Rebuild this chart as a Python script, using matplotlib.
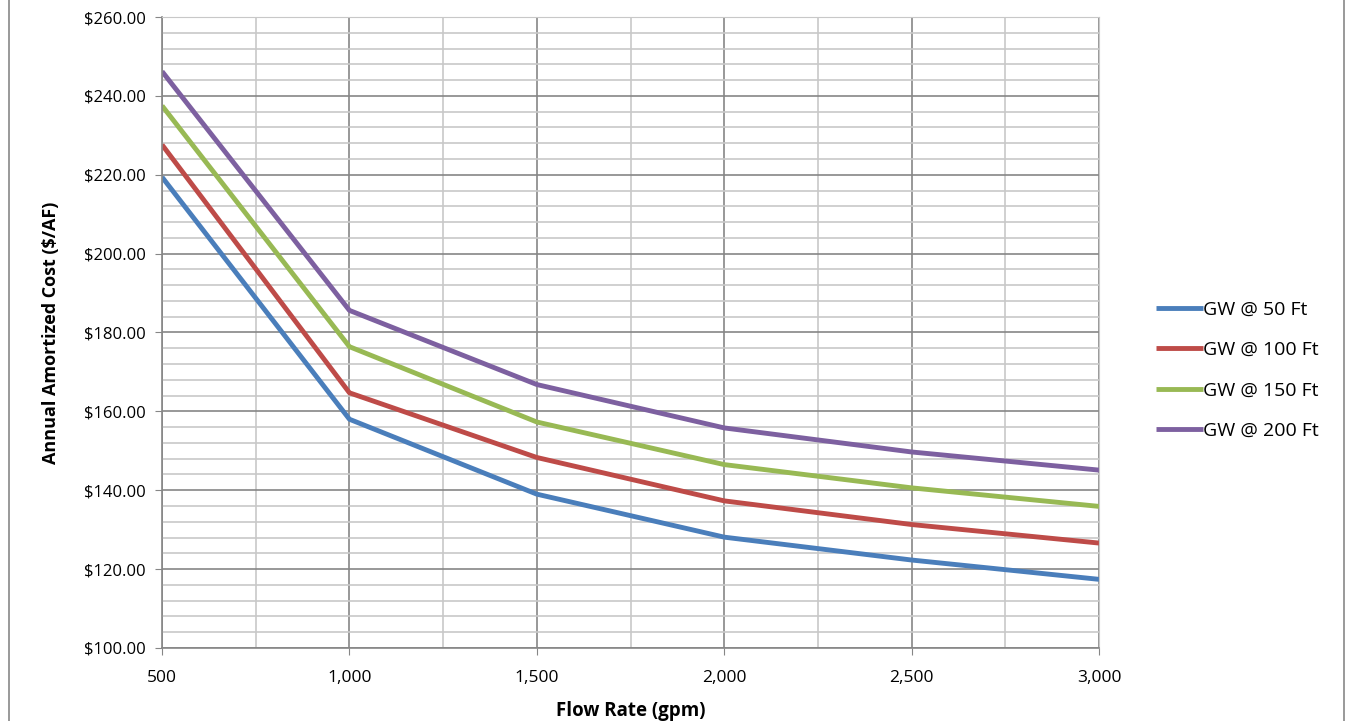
import matplotlib.pyplot as plt
from matplotlib.lines import Line2D
from matplotlib.ticker import MultipleLocator, FuncFormatter

plt.rcParams['font.family'] = ['Open Sans', 'DejaVu Sans']

flow = [500, 1000, 1500, 2000, 2500, 3000]
gw50 = [219.4, 158.0, 139.0, 128.1, 122.3, 117.4]
gw100 = [227.6, 164.7, 148.3, 137.3, 131.3, 126.6]
gw150 = [237.5, 176.4, 157.3, 146.5, 140.6, 135.9]
gw200 = [246.2, 185.6, 166.8, 155.8, 149.7, 145.1]
labels = ['GW @ 50 Ft', 'GW @ 100 Ft', 'GW @ 150 Ft', 'GW @ 200 Ft']
colors = ['#4a7ebb', '#be4b48', '#98b954', '#7d60a0']

fig = plt.figure(figsize=(13.55, 7.21), dpi=100)
ax = fig.add_axes([0.1196, 0.1013, 0.6915, 0.8751])

for ys, lab, c in zip([gw50, gw100, gw150, gw200], labels, colors):
    ax.plot(flow, ys, color=c, lw=3.5, label=lab, solid_capstyle='butt')

ax.set_xlim(500, 3000)
ax.set_ylim(100, 260)
ax.xaxis.set_major_locator(MultipleLocator(500))
ax.xaxis.set_minor_locator(MultipleLocator(250))
ax.yaxis.set_major_locator(MultipleLocator(20))
ax.yaxis.set_minor_locator(MultipleLocator(4))
ax.xaxis.set_major_formatter(FuncFormatter(lambda v, p: f'{v:,.0f}'))
ax.yaxis.set_major_formatter(FuncFormatter(lambda v, p: f'${v:.2f}'))
ax.grid(which='major', color='#868686', lw=1.2)
ax.grid(which='minor', color='#c8c8c8', lw=1.2)
ax.set_axisbelow(True)
for s in ['top', 'right']:
    ax.spines[s].set_color('#c8c8c8')
for s in ['left', 'bottom']:
    ax.spines[s].set_color('#868686')
    ax.spines[s].set_linewidth(1.2)
ax.tick_params(which='major', length=5, color='#868686', labelsize=12)
ax.tick_params(which='minor', length=0)
ax.tick_params(axis='y', pad=7)
ax.tick_params(axis='x', pad=11, labelsize=12.5)

ax.set_xlabel('Flow Rate (gpm)', fontsize=13.5, fontweight='bold', labelpad=11)
ax.set_ylabel('Annual Amortized Cost ($/AF)', fontsize=13, fontweight='bold', labelpad=17)

ax.legend(loc='center left', bbox_to_anchor=(1.042, 0.44), frameon=False,
          fontsize=14, handlelength=2.4, handletextpad=0.0, labelspacing=1.15)

fig.add_artist(Line2D([9 / 1355, 9 / 1355], [0, 1], color='#888888', lw=1.2))
fig.add_artist(Line2D([1344 / 1355, 1344 / 1355], [0, 1], color='#888888', lw=1.2))

fig.savefig('out.png', dpi=100)
